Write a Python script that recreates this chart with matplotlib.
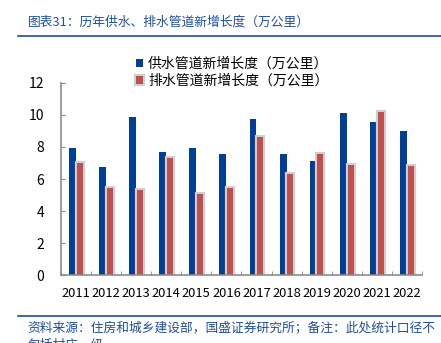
import matplotlib
matplotlib.use('Agg')
import matplotlib.pyplot as plt
import matplotlib.patheffects as pe
import numpy as np

plt.rcParams['font.family'] = ['Noto Sans CJK SC', 'DejaVu Sans']

years = ['2011', '2012', '2013', '2014', '2015', '2016',
         '2017', '2018', '2019', '2020', '2021', '2022']
supply = [7.95, 6.75, 9.85, 7.68, 7.93, 7.56, 9.72, 7.56, 7.10, 10.11, 9.55, 8.97]
drain = [7.02, 5.44, 5.31, 7.34, 5.04, 5.43, 8.62, 6.29, 7.53, 6.86, 10.17, 6.82]

blue = '#003f98'
red = '#c0504d'
navy = '#1f4e9c'

fig = plt.figure(figsize=(4.41, 3.43), dpi=100)
ax = fig.add_axes([0.138, 0.197, 0.819, 0.562])

x = np.arange(len(years))
ax.bar(x - 0.117, supply, width=0.23, color=blue, label='供水管道新增长度（万公里）')
ax.bar(x + 0.125, drain, width=0.2, color=red, label='排水管道新增长度（万公里）',
       path_effects=[pe.withStroke(linewidth=3, foreground='#cfcfcf')])

ax.set_xlim(-0.5, len(years) - 0.5)
ax.set_ylim(0, 12)
ax.set_yticks(range(0, 13, 2))
ax.set_xticks(x)
ax.set_xticklabels(years)
ax.set_xticks(np.arange(-0.5, len(years)), minor=True)
ax.tick_params(axis='x', which='major', length=0, labelsize=9.3, pad=8)
ax.tick_params(axis='x', which='minor', direction='in', length=3, color='#888888')
ax.tick_params(axis='y', direction='in', length=3, color='#888888', labelsize=10, pad=12)

for side in ['top', 'right']:
    ax.spines[side].set_visible(False)
for side in ['left', 'bottom']:
    ax.spines[side].set_color('#8c8c8c')
    ax.spines[side].set_linewidth(1.2)

handles, labels = ax.get_legend_handles_labels()
leg = fig.legend(handles, labels, loc='upper left', bbox_to_anchor=(0.295, 0.85),
                 frameon=False, fontsize=10, handlelength=0.55, handleheight=0.55,
                 handletextpad=0.35, labelspacing=0.2, borderaxespad=0)

# header and footer
fig.text(0.063, 0.935, '图表31：历年供水、排水管道新增长度（万公里）', color=navy,
         fontsize=9.2, ha='left', va='center', style='italic')
fig.add_artist(plt.Line2D([0.04, 1.0], [0.895, 0.895], color=navy, lw=1.2))
fig.add_artist(plt.Line2D([0.04, 1.0], [0.078, 0.078], color=navy, lw=1.2))
fig.text(0.063, 0.045, '资料来源：住房和城乡建设部，国盛证券研究所；备注：此处统计口径不',
         color=navy, fontsize=9.2, ha='left', va='center', style='italic')
fig.text(0.063, -0.005, '包括村庄一级', color=navy, fontsize=9.2, ha='left',
         va='center', style='italic')

fig.savefig('out.png', dpi=100)
